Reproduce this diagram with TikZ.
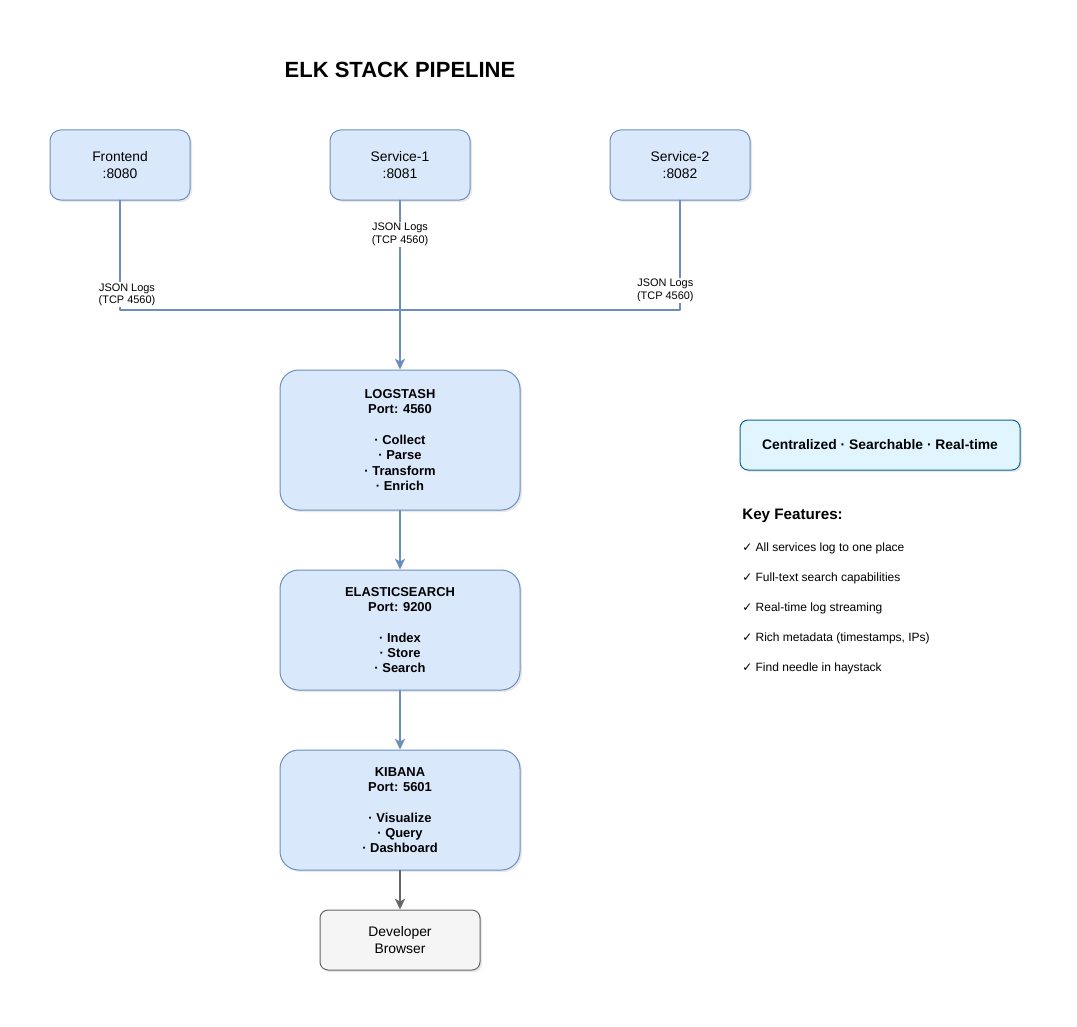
\documentclass[tikz,border=0pt]{standalone}
\usepackage{fontspec}
\setmainfont{Liberation Sans}
\newfontfamily\symfont{DejaVu Sans}
\usetikzlibrary{arrows.meta,shadows}

\definecolor{boxfill}{RGB}{218,232,252}
\definecolor{boxline}{RGB}{108,142,191}
\definecolor{greyfill}{RGB}{245,245,245}
\definecolor{greyline}{RGB}{102,102,102}
\definecolor{notefill}{RGB}{225,245,254}
\definecolor{noteline}{RGB}{16,100,150}

\tikzset{
  softshadow/.style={drop shadow={opacity=0.18,shadow xshift=1.5pt,shadow yshift=-1.5pt}},
  svcbox/.style={draw=boxline,fill=boxfill,line width=0.75pt,rounded corners=8pt,
    minimum width=105pt,minimum height=52.5pt,align=center,softshadow,
    font=\fontsize{10.4}{12.2}\selectfont},
  stagebox/.style={svcbox,minimum width=180pt,rounded corners=14pt,
    font=\fontsize{9.7}{11.5}\selectfont\bfseries},
  userbox/.style={svcbox,draw=greyline,fill=greyfill,minimum width=120pt,
    minimum height=45pt,rounded corners=6pt},
  flow/.style={draw=boxline,line width=1.5pt,-{Stealth[length=8pt,width=7.5pt,inset=2pt]}},
  lbl/.style={fill=white,inner sep=1pt,align=center,font=\fontsize{8.2}{9.2}\selectfont},
  feat/.style={anchor=west,inner sep=0pt,font=\fontsize{9}{10}\selectfont}
}

\begin{document}
\begin{tikzpicture}[x=0.75pt,y=-0.75pt,line cap=round,line join=round]
        \useasboundingbox (0,0) rectangle (1077,1027);

        % Titel
        \node[font=\fontsize{16.5}{19}\selectfont\bfseries] (title) at (400,70) {ELK STACK PIPELINE};

        % Dienste
        \node[svcbox] (frontend) at (120,165) {Frontend\\:8080};
        \node[svcbox] (svcone) at (400,165) {Service-1\\:8081};
        \node[svcbox] (svctwo) at (680,165) {Service-2\\:8082};

        % Pipeline
        \node[stagebox,minimum height=105pt] (logstash) at (400,440)
            {LOGSTASH\\Port: 4560\\[11.5pt]· Collect\\· Parse\\· Transform\\· Enrich};
        \node[stagebox,minimum height=90pt] (elastic) at (400,630)
            {ELASTICSEARCH\\Port: 9200\\[11.5pt]· Index\\· Store\\· Search};
        \node[stagebox,minimum height=90pt] (kibana) at (400,810)
            {KIBANA\\Port: 5601\\[11.5pt]· Visualize\\· Query\\· Dashboard};
        \node[userbox] (browser) at (400,940) {Developer\\Browser};

        % Sammelpunkt der Logs
        \coordinate (hub) at (400,310);

        \draw[flow,-] (frontend.south) |- (hub)
            node[lbl,pos=0.43,xshift=5.25pt] {JSON Logs\\(TCP 4560)};
        \draw[flow,-] (svctwo.south) |- (hub)
            node[lbl,pos=0.41,xshift=-11pt] {JSON Logs\\(TCP 4560)};
        \draw[flow] (svcone.south) -- (logstash.north)
            node[lbl,pos=0.2] {JSON Logs\\(TCP 4560)};

        \draw[flow] (logstash) -- (elastic);
        \draw[flow] (elastic) -- (kibana);
        \draw[flow,draw=greyline] (kibana) -- (browser);

        % Hinweis
        \node[draw=noteline,fill=notefill,line width=0.75pt,rounded corners=6pt,softshadow,
              minimum width=210pt,minimum height=37.5pt,
              font=\fontsize{10.4}{12}\selectfont\bfseries] (motto) at (880,445)
            {Centralized · Searchable · Real-time};

        % Merkmale
        \node[anchor=west,inner sep=0pt,font=\fontsize{11.4}{13}\selectfont\bfseries] (keyhead) at (742,516) {Key Features:};
        \node[feat] (fa) at (742,548) {{\symfont ✓} All services log to one place};
        \node[feat] (fb) at (742,578) {{\symfont ✓} Full-text search capabilities};
        \node[feat] (fc) at (742,608) {{\symfont ✓} Real-time log streaming};
        \node[feat] (fd) at (742,638) {{\symfont ✓} Rich metadata (timestamps, IPs)};
        \node[feat] (fe) at (742,668) {{\symfont ✓} Find needle in haystack};
\end{tikzpicture}
\end{document}
